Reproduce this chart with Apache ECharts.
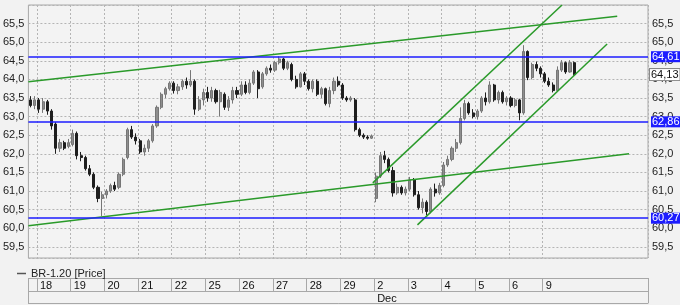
<!DOCTYPE html>
<html><head><meta charset="utf-8">
<script src="https://cdn.jsdelivr.net/npm/echarts@6/dist/echarts.min.js"></script>
<style>html,body{margin:0;padding:0;background:#f2f2f2}#c{width:680px;height:305px}</style>
</head><body><div id="c"></div>
<script>
// ---- data ----
const seriesName = 'BR-1.20 [Price]';
const dayLabels = ['18','19','20','21','22','25','26','27','28','29','2','3','4','5','6','9'];
const dayStartSlot = [2,10,18,26,34,42,50,58,66,74,82,90,98,106,114,122];
const monthLabels = ['Dec'];
const monthSlot = [82];
const slotCount = 147;
const yMin = 59.2, yMax = 66.0;

const opens = [
63.45,63.30,63.45,63.20,63.40,63.15,62.80,62.15,62.30,62.20,
62.25,62.55,61.95,61.90,61.60,61.45,61.10,60.80,60.90,61.00,
61.15,61.10,61.45,61.90,62.65,62.45,62.35,62.05,62.15,62.35,
62.75,63.25,63.60,63.75,63.90,63.70,63.80,63.95,63.85,63.95,
63.20,63.45,63.65,63.50,63.70,63.40,63.60,63.25,63.45,63.70,
63.60,63.85,63.65,63.90,64.20,63.80,64.15,64.30,64.25,64.45,
64.55,64.30,64.40,64.00,63.80,64.15,63.95,63.75,63.95,63.60,
63.75,63.35,63.70,63.95,63.85,63.50,63.45,63.45,62.65,62.50,
62.45,62.42,60.80,61.40,61.95,61.85,61.55,60.95,61.10,60.95,
61.05,61.30,60.90,60.55,60.70,60.45,61.05,60.95,61.15,61.70,
61.85,62.15,62.30,62.95,63.35,63.10,63.00,63.15,63.50,63.40,
63.85,63.45,63.65,63.40,63.50,63.30,63.45,63.10,64.75,64.05,
64.40,64.30,64.15,63.95,63.85,63.70,64.25,64.45,64.20,64.45];
const closes = [
63.30,63.45,63.20,63.40,63.15,62.75,62.15,62.30,62.15,62.30,
62.55,61.95,61.90,61.60,61.45,61.10,60.80,60.90,61.00,61.15,
61.05,61.45,61.85,62.65,62.45,62.35,62.05,62.15,62.35,62.75,
63.25,63.60,63.75,63.90,63.70,63.80,63.95,63.85,63.95,63.20,
63.45,63.65,63.50,63.70,63.40,63.65,63.25,63.45,63.70,63.60,
63.85,63.65,63.90,64.20,63.75,64.15,64.30,64.25,64.45,64.55,
64.30,64.45,64.00,63.80,64.15,63.95,63.75,63.95,63.60,63.75,
63.35,63.70,63.95,63.85,63.50,63.45,63.50,62.65,62.50,62.45,
62.42,62.48,61.40,61.95,61.85,61.55,60.95,61.10,60.95,61.05,
61.30,60.90,60.55,60.70,60.45,61.05,60.95,61.15,61.70,61.85,
62.15,62.30,62.95,63.35,63.10,63.00,63.15,63.50,63.40,63.85,
63.45,63.65,63.40,63.50,63.30,63.45,63.10,64.75,64.05,64.40,
64.30,64.15,63.95,63.85,63.70,64.25,64.45,64.20,64.45,64.13];
const lows = [
63.25,63.20,63.10,63.10,63.05,62.65,62.00,62.05,62.10,62.15,
62.20,61.85,61.80,61.55,61.40,61.05,60.70,60.33,60.80,60.95,
61.00,61.05,61.40,61.85,62.40,62.25,62.00,61.95,62.05,62.30,
62.70,63.20,63.50,63.70,63.62,63.60,63.72,63.75,63.80,63.05,
63.15,63.30,63.40,63.40,63.35,63.00,63.18,63.15,63.35,63.50,
63.55,63.60,63.60,63.85,63.50,63.75,64.10,64.18,64.20,64.40,
64.25,64.25,63.95,63.75,63.78,63.85,63.70,63.65,63.55,63.50,
63.30,63.25,63.60,63.80,63.45,63.40,63.40,62.60,62.45,62.40,
62.38,62.40,60.70,61.35,61.75,61.50,60.85,60.90,60.90,60.88,
61.00,60.85,60.50,60.40,60.35,60.40,60.85,60.90,61.10,61.65,
61.80,62.05,62.25,62.90,63.05,62.95,62.92,63.10,63.30,63.35,
63.40,63.35,63.35,63.30,63.25,63.25,62.90,63.05,63.98,64.00,
64.22,64.05,63.90,63.80,63.65,63.68,64.20,64.15,64.18,64.10];
const highs = [
63.55,63.55,63.50,63.50,63.45,63.20,62.85,62.40,62.35,62.40,
62.65,62.60,62.05,61.95,61.70,61.50,61.15,60.98,61.05,61.20,
61.25,61.50,61.90,62.70,62.75,62.55,62.40,62.25,62.40,62.80,
63.30,63.65,63.80,63.95,63.95,63.88,64.00,64.05,64.25,64.00,
63.55,63.75,63.80,63.80,63.75,63.72,63.65,63.55,63.80,63.80,
63.95,63.95,64.00,64.25,64.25,64.20,64.35,64.40,64.50,64.62,
64.58,64.50,64.45,64.10,64.20,64.20,64.00,64.00,64.00,63.80,
63.78,63.80,64.05,64.08,63.90,63.55,63.55,63.50,62.70,62.55,
62.50,62.52,61.50,62.05,62.08,61.90,61.65,61.20,61.15,61.12,
61.38,61.35,61.00,60.80,60.75,61.10,61.20,61.22,61.78,61.95,
62.20,62.40,63.25,63.45,63.40,63.20,63.20,63.55,63.65,63.95,
63.88,63.70,63.70,63.55,63.55,63.50,63.48,64.92,64.78,64.45,
64.48,64.35,64.20,64.05,63.92,64.35,64.52,64.48,64.52,64.48];

const levels = [64.61, 62.86, 60.27];
const lastPrice = 64.13;
// trend lines: [slot position, price]
const trendUpperLong = [[0, 63.94], [139.7, 65.70]];
const trendLowerLong = [[0, 60.07], [142.5, 62.00]];
const channelUpper = [[81.7, 61.22], [126.6, 66.0]];
const channelLower = [[92.3, 60.09], [137.3, 64.95]];

// ---- build ----
const FONT = 'Liberation Sans, Arial, sans-serif';
const slots = Array.from({length: slotCount}, (_, i) => String(i));
const dayMap = {}; dayStartSlot.forEach((s, k) => dayMap[s] = dayLabels[k]);
const monMap = {}; monthSlot.forEach((s, k) => monMap[s] = monthLabels[k]);
const candles = opens.map((o, i) => [o, closes[i], lows[i], highs[i]]);
const fmtY = v => {
  const r = Math.round(v * 2) / 2;
  if (Math.abs(v - r) > 1e-6 || v > 65.9) return '';
  return r.toFixed(1).replace('.', ',');
};
const fmt2 = v => v.toFixed(2).replace('.', ',');
const green = '#2a9a2a';
const blue = '#1c1cff';
const trendSeries = (d) => ({
  type: 'line', xAxisIndex: 4, yAxisIndex: 0, data: d, symbol: 'none', silent: true,
  lineStyle: {color: green, width: 1.5}, z: 3
});

const chart = echarts.init(document.getElementById('c'), null, {renderer: 'canvas'});
chart.setOption({
  animation: false,
  backgroundColor: '#f2f2f2',
  textStyle: {fontFamily: FONT},
  grid: {left: 27, right: 32, top: 5, bottom: 47, show: true, borderColor: '#a8a8a8', borderWidth: 1, backgroundColor: '#f3f3f3'},
  legend: {
    left: 12, top: 263, data: [seriesName], icon: 'rect', itemWidth: 9, itemHeight: 1.5,
    itemStyle: {color: '#555', borderWidth: 0},
    textStyle: {fontSize: 11, color: '#222', fontFamily: FONT}
  },
  xAxis: [
    {type: 'category', data: slots, boundaryGap: true, position: 'bottom',
     axisLine: {show: false}, axisTick: {show: false}, axisLabel: {show: false},
     splitLine: {show: true, interval: (i) => dayStartSlot.includes(i),
       lineStyle: {color: '#b4b4b4', type: [2, 2], width: 1}}},
    {type: 'category', data: slots, boundaryGap: true, position: 'bottom', offset: 20,
     axisLine: {show: true, lineStyle: {color: '#a8a8a8'}},
     axisTick: {show: true, length: 13, interval: (i) => i === 0 || dayStartSlot.includes(i), lineStyle: {color: '#a8a8a8'}},
     axisLabel: {show: true, interval: (i) => dayStartSlot.includes(i), formatter: (v, i) => dayMap[i] || '',
       align: 'left', margin: 2, fontSize: 11, color: '#111', fontFamily: FONT, padding: [0, 0, 0, 1]},
     splitLine: {show: false}},
    {type: 'category', data: slots, boundaryGap: true, position: 'bottom', offset: 33,
     axisLine: {show: true, lineStyle: {color: '#a8a8a8'}},
     axisTick: {show: true, length: 12, interval: (i) => i === 0, lineStyle: {color: '#a8a8a8'}},
     axisLabel: {show: true, interval: (i) => monthSlot.includes(i), formatter: (v, i) => monMap[i] || '',
       align: 'left', margin: 2, fontSize: 11, color: '#111', fontFamily: FONT, padding: [0, 0, 0, 1]},
     splitLine: {show: false}},
    {type: 'category', data: slots, boundaryGap: true, position: 'bottom', offset: 45,
     axisLine: {show: true, lineStyle: {color: '#a8a8a8'}},
     axisTick: {show: false}, axisLabel: {show: false}, splitLine: {show: false}},
    {type: 'value', min: 0, max: slotCount, show: false}
  ],
  yAxis: [
    {type: 'value', position: 'left', min: yMin, max: yMax, splitNumber: 14, minInterval: 0.5, maxInterval: 0.5, scale: true,
     axisLine: {show: false}, axisTick: {show: false},
     axisLabel: {formatter: fmtY, margin: 4, fontSize: 11, color: '#222', fontFamily: FONT},
     splitLine: {show: true, lineStyle: {color: '#b4b4b4', type: [2, 2], width: 1}}},
    {type: 'value', position: 'right', min: yMin, max: yMax, splitNumber: 14, minInterval: 0.5, maxInterval: 0.5, scale: true,
     axisLine: {show: false}, axisTick: {show: false},
     axisLabel: {formatter: fmtY, margin: 4, fontSize: 11, color: '#222', fontFamily: FONT},
     splitLine: {show: false}}
  ],
  series: [
    {
      name: seriesName, type: 'candlestick', xAxisIndex: 0, yAxisIndex: 0, data: candles,
      barWidth: 2.6, z: 2,
      itemStyle: {color: '#8e8e8e', color0: '#1e1e1e', borderColor: '#767676', borderColor0: '#1e1e1e', borderWidth: 1},
      markLine: {
        silent: true, symbol: ['none', 'none'], animation: false,
        data: levels.map(v => ({
          yAxis: v,
          lineStyle: {color: blue, width: 1.5, type: 'solid'},
          label: {show: true, position: 'end', distance: 3, formatter: fmt2(v), backgroundColor: blue,
            color: '#fff', padding: [0, 1, 0, 1], fontSize: 11, fontFamily: FONT, lineHeight: 11}
        })).concat([{
          yAxis: lastPrice,
          lineStyle: {color: 'rgba(0,0,0,0)', width: 0},
          label: {show: true, position: 'end', distance: 2, formatter: fmt2(lastPrice), backgroundColor: '#fff',
            borderColor: '#888', borderWidth: 1, color: '#111', padding: [0, 1, 0, 1], fontSize: 11, fontFamily: FONT, lineHeight: 11}
        }])
      }
    },
    Object.assign(trendSeries(trendUpperLong), {name: 'tu'}),
    Object.assign(trendSeries(trendLowerLong), {name: 'tl'}),
    Object.assign(trendSeries(channelUpper), {name: 'cu'}),
    Object.assign(trendSeries(channelLower), {name: 'cl'})
  ]
});
</script></body></html>
